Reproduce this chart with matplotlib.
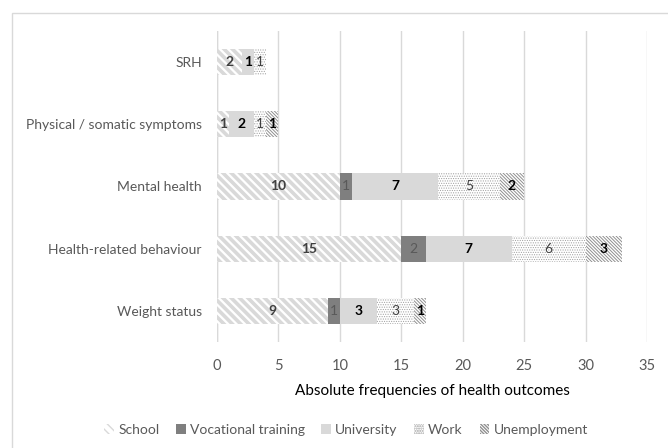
import matplotlib
matplotlib.use("Agg")
import matplotlib.pyplot as plt
from matplotlib.patches import Rectangle
import numpy as np

categories = ["Weight status", "Health-related behaviour", "Mental health",
              "Physical / somatic symptoms", "SRH"]
school = [9, 15, 10, 1, 2]
vocational = [1, 2, 1, 0, 0]
university = [3, 7, 7, 2, 1]
work = [3, 6, 5, 1, 1]
unemployment = [1, 3, 2, 1, 0]
series_names = ["School", "Vocational training", "University", "Work", "Unemployment"]
x_ticks = [0, 5, 10, 15, 20, 25, 30, 35]
x_label = "Absolute frequencies of health outcomes"

plt.rcParams['font.family'] = ['Lato', 'DejaVu Sans']

fig = plt.figure(figsize=(6.68, 4.48), dpi=100)
ax = fig.add_axes([217/668, 1-342/448, (647-217)/668, (342-31)/448])

# outer border
fig.patches.append(Rectangle((12/668, -0.2), 1.5, 1.2 - 13/448, transform=fig.transFigure,
                             fill=False, edgecolor='#d9d9d9', linewidth=1.0))

styles = [
    dict(facecolor='white', edgecolor='#d9d9d9', hatch='\\' * 4, hlw=2.6),
    dict(facecolor='#7f7f7f', edgecolor='#7f7f7f', hatch=None, hlw=1.0),
    dict(facecolor='#d9d9d9', edgecolor='#d9d9d9', hatch=None, hlw=1.0),
    dict(facecolor='white', edgecolor='#a0a0a0', hatch='.' * 7, hlw=0.5),
    dict(facecolor='white', edgecolor='#909090', hatch='\\' * 10, hlw=0.7),
]
label_styles = [
    dict(color='#404040', fontweight='bold'),
    dict(color='#595959', fontweight='normal'),
    dict(color='#000000', fontweight='bold'),
    dict(color='#404040', fontweight='normal'),
    dict(color='#000000', fontweight='bold'),
]


def wrap_draw(artist, lw):
    orig = artist.draw

    def draw(renderer, *a, **k):
        with plt.rc_context({'hatch.linewidth': lw}):
            return orig(renderer, *a, **k)
    artist.draw = draw


data = [school, vocational, university, work, unemployment]
y = np.arange(len(categories))
left = np.zeros(len(categories))
handles = []
for vals, st, ls, name in zip(data, styles, label_styles, series_names):
    vals = np.array(vals, dtype=float)
    with plt.rc_context({'hatch.linewidth': st['hlw']}):
        bars = ax.barh(y, vals, left=left, height=0.42, color=st['facecolor'],
                       edgecolor=st['edgecolor'], hatch=st['hatch'], linewidth=0,
                       label=name, zorder=3)
    for b in bars:
        if st['hatch']:
            if hasattr(b, 'set_hatch_linewidth'):
                b.set_hatch_linewidth(st['hlw'])
            wrap_draw(b, st['hlw'])
    handles.append(bars)
    for yi, (l, v) in enumerate(zip(left, vals)):
        if v > 0:
            ax.text(l + v/2, yi, f"{int(v)}", ha='center', va='center',
                    fontsize=10, zorder=4, **ls)
    left = left + vals

ax.set_xlim(0, 35)
ax.set_ylim(-0.5, len(categories) - 0.5)
ax.set_xticks(x_ticks)
ax.set_yticks(y)
ax.set_yticklabels(categories)
ax.tick_params(axis='both', length=0, labelcolor='#595959')
ax.tick_params(axis='y', labelsize=10, pad=11)
ax.tick_params(axis='x', labelsize=10.5, pad=12)
for s in ax.spines.values():
    s.set_visible(False)
ax.xaxis.grid(True, color='#d9d9d9', linewidth=1.0, zorder=0)
ax.axvline(0, color='#d9d9d9', linewidth=1.0, zorder=1)
ax.set_axisbelow(True)
ax.set_xlabel(x_label, fontsize=11, color='#000000', labelpad=8)

leg = fig.legend(handles=handles, labels=series_names, loc='center',
                 bbox_to_anchor=(346/668, 1-430/448), ncol=5, frameon=False,
                 fontsize=10, labelcolor='#595959', handlelength=0.7, handleheight=0.7,
                 handletextpad=0.3, columnspacing=1.2)
for p, st in zip(leg.get_patches(), styles):
    if st['hatch']:
        wrap_draw(p, st['hlw'])

fig.savefig("out.png", dpi=100)
